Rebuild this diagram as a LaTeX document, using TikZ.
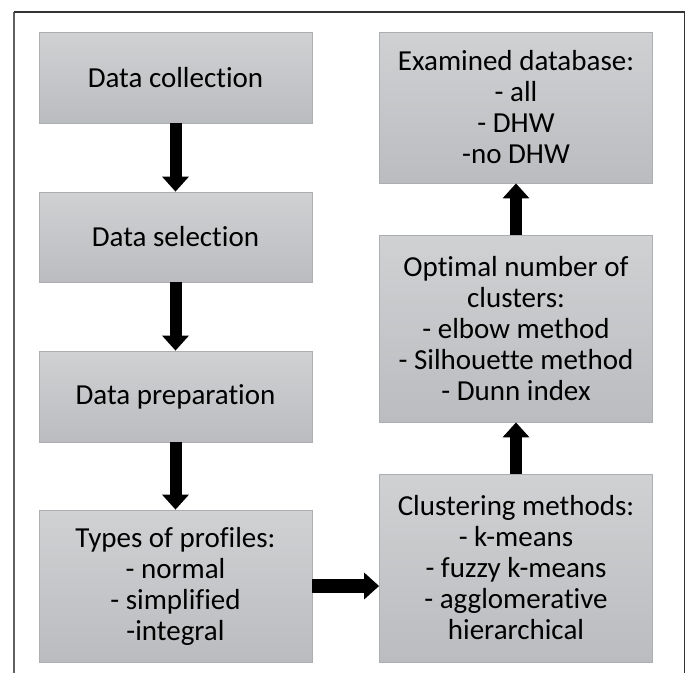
\documentclass[tikz,border=0pt]{standalone}
\usepackage{fontspec}
\setmainfont{Carlito}[Ligatures=NoCommon]
\usetikzlibrary{arrows.meta}
\definecolor{boxtop}{RGB}{208,209,211}
\definecolor{boxbot}{RGB}{186,188,191}
\definecolor{boxline}{RGB}{172,174,177}
\tikzset{
    BX/.style ={rectangle, minimum width = 273pt, minimum height = #1, inner sep=0pt,
        draw=boxline, line width=0.8pt, top color=boxtop, bottom color=boxbot,
        align=center, font=\fontsize{29}{31}\selectfont},
    AR/.style ={line width=12pt, -{Triangle[width=26pt,length=15pt]}}
}

\begin{document}
\begin{tikzpicture}[x=1pt,y=-1pt]
        \useasboundingbox (0,0) rectangle (690,673);
        % frame
        \draw[line width=2.5pt,color=black!62] (14,12)--(14,673);
        \draw[line width=1.3pt,color=black!80] (14,12)--(684.5,12)--(684.5,673);
        % left column
        \node[BX=91pt] (collect) at(175.5,77.5) {Data collection};
        \node[BX=90pt] (select) at(175.5,237) {Data selection};
        \node[BX=91pt] (prepare) at(175.5,396.5) {Data preparation};
        \node[BX=152pt] (profiles) at(175.5,586) {Types of profiles:\\- normal\\- simplified\\-integral};
        % right column
        \node[BX=188pt] (methods) at(516,568) {Clustering methods:\\- k-means\\- fuzzy k-means\\- agglomerative\\hierarchical};
        \node[BX=187pt] (optimal) at(516,328.5) {Optimal number of\\clusters:\\- elbow method\\- Silhouette method\\- Dunn index};
        \node[BX=151pt] (database) at(516,107.5) {Examined database:\\- all\\- DHW\\-no DHW};
        % arrows
        \draw[AR] (collect)--(select);
        \draw[AR] (select)--(prepare);
        \draw[AR] (prepare)--(profiles);
        \draw[AR,line width=14pt] (profiles.east)--(profiles.east -| methods.west);
        \draw[AR] (methods)--(optimal);
        \draw[AR] (optimal)--(database);
    \end{tikzpicture}
\end{document}
